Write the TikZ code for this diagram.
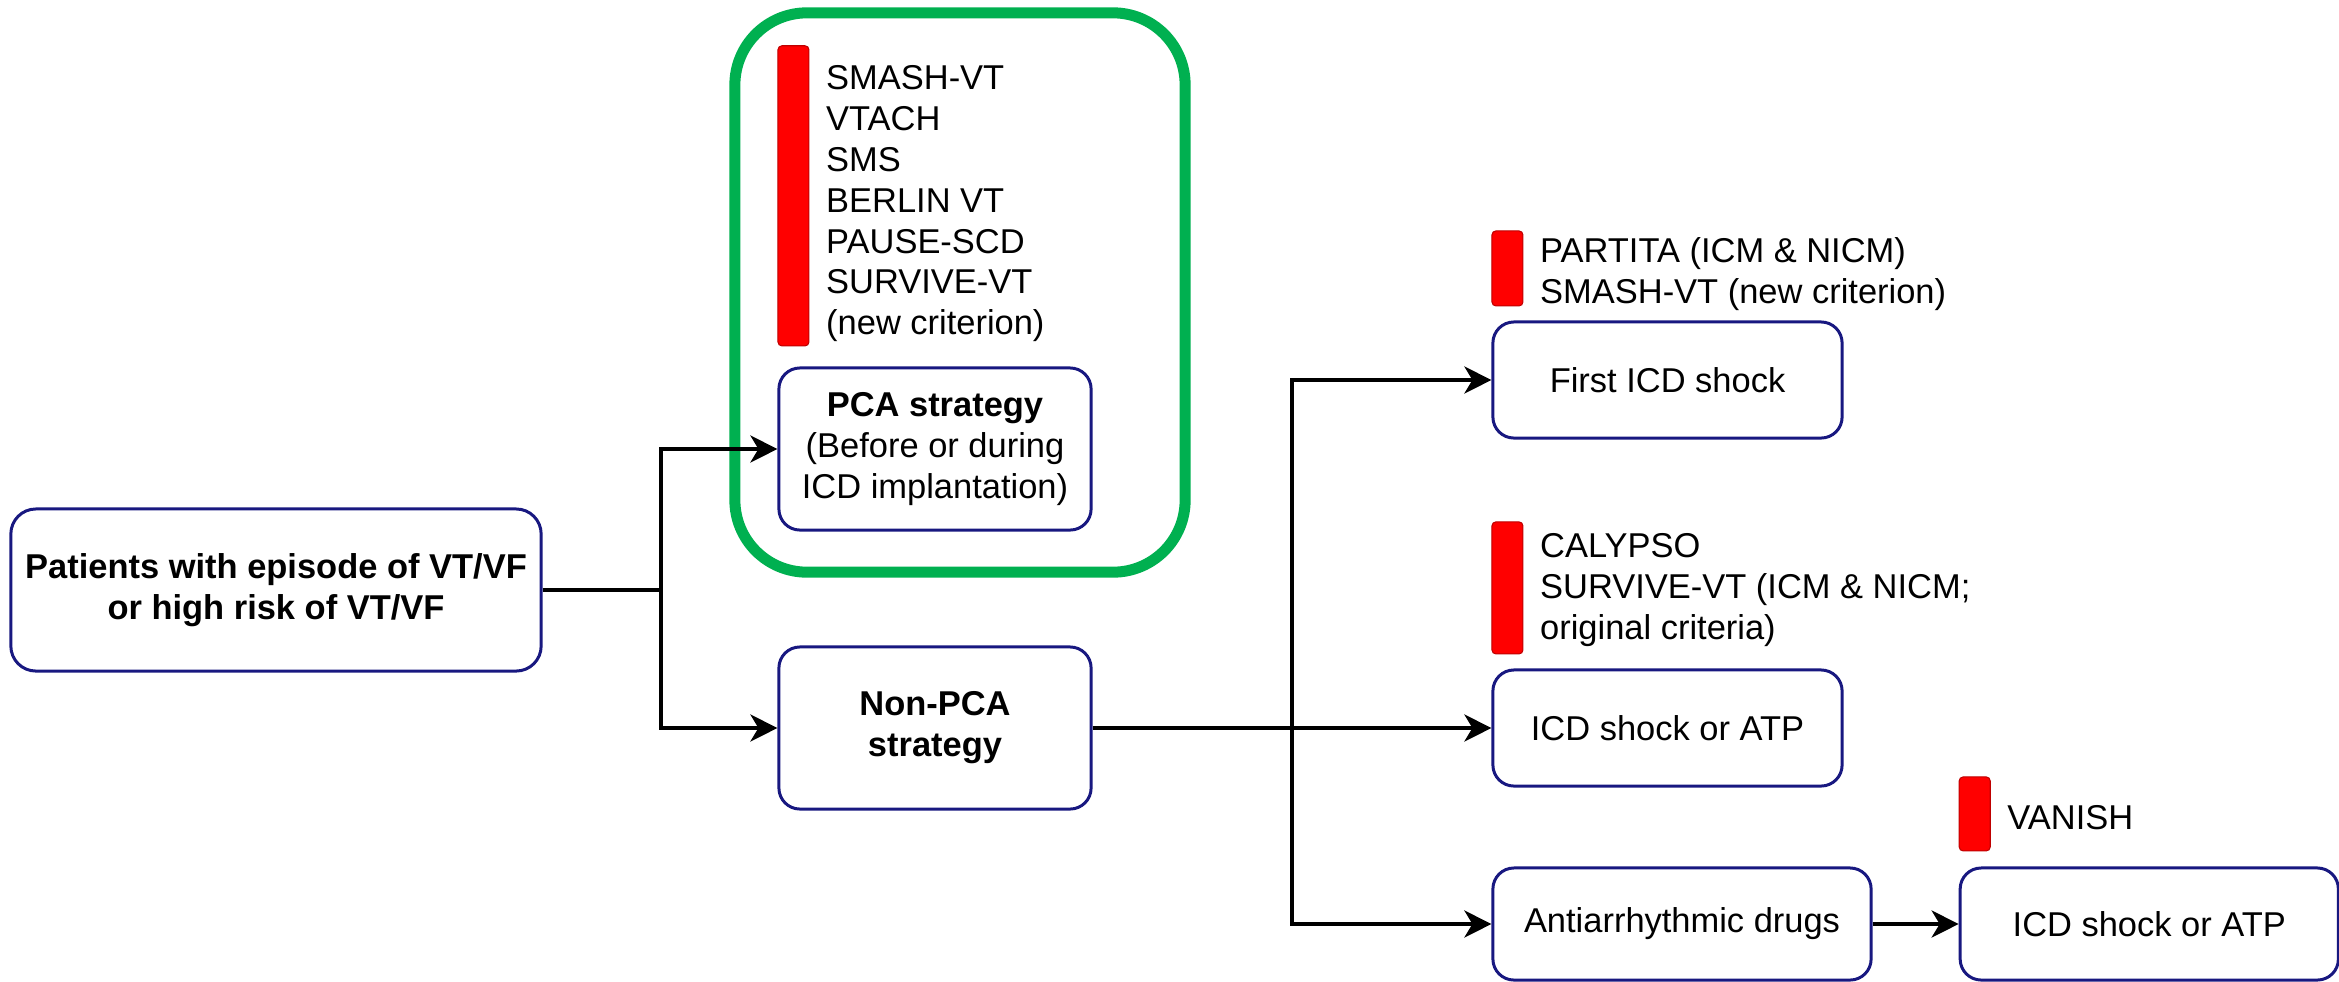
\documentclass[tikz,border=0pt]{standalone}
\usepackage{fontspec}
\setmainfont{Liberation Sans}
\usetikzlibrary{arrows.meta,positioning}
\definecolor{boxblue}{RGB}{24,24,128}
\definecolor{grpgreen}{RGB}{0,176,80}
\definecolor{barred}{RGB}{255,0,0}
\newcommand{\diagfont}{\fontsize{9.8pt}{11.6pt}\selectfont}

\begin{document}
\begin{tikzpicture}[
    x=0.01cm, y=-0.01cm,
    every node/.style={font=\diagfont},
    box/.style={rectangle,draw=boxblue,line width=0.85pt,rounded corners=0.21cm,align=center,inner sep=0pt},
    bar/.style={rectangle,fill=barred,draw=barred!75!black,line width=0.3pt,rounded corners=0.04cm,minimum width=0.31cm,inner sep=0pt},
    trials/.style={align=left,inner sep=0pt},
    group/.style={rectangle,draw=grpgreen,line width=0.11cm,rounded corners=0.72cm,inner sep=0pt},
    arrow/.style={line width=1.1pt,-{Stealth[length=0.27cm,width=0.27cm,inset=0.08cm]}},
    link/.style={line width=1.1pt}
]
    \useasboundingbox (0,0) rectangle (2339,981);

    % Patients and the two strategies
    \node[box,font=\diagfont\bfseries,minimum width=5.3cm,minimum height=1.62cm,rounded corners=0.25cm] (pat) at (276,590) {Patients with episode of VT/VF\\or high risk of VT/VF};
    \node[group,minimum width=4.5cm,minimum height=5.59cm] (pcagrp) at (960,292.5) {};
    \node[box,minimum width=3.12cm,minimum height=1.62cm] (pca) at (935,449) {\textbf{PCA strategy}\\(Before or during\\ICD implantation)};
    \node[box,font=\diagfont\bfseries,minimum width=3.12cm,minimum height=1.62cm] (nonpca) at (935,728) {Non-PCA\\strategy};

    % PCA trials
    \node[bar,minimum height=3.0cm,above=0.2cm of pca.north west,anchor=south west] (bar1) {};
    \node[trials,right=0.16cm of bar1,yshift=-0.08cm] (list1) {SMASH-VT\\VTACH\\SMS\\BERLIN VT\\PAUSE-SCD\\SURVIVE-VT\\(new criterion)};

    % Non-PCA endpoints
    \node[box,minimum width=3.49cm,minimum height=1.16cm] (first) at (1667.5,380) {First ICD shock};
    \node[box,minimum width=3.49cm,minimum height=1.16cm] (icd) at (1667.5,728) {ICD shock or ATP};
    \node[box,minimum width=3.78cm,minimum height=1.12cm] (drugs) at (1682,924) {Antiarrhythmic drugs};
    \node[box,minimum width=3.78cm,minimum height=1.12cm,right=0.86cm of drugs] (icdb) {ICD shock or ATP};

    \node[bar,minimum height=0.75cm,above=0.14cm of first.north west,anchor=south west] (bar2) {};
    \node[trials,right=0.16cm of bar2,yshift=-0.06cm] (list2) {PARTITA (ICM \& NICM)\\SMASH-VT (new criterion)};
    \node[bar,minimum height=1.32cm,above=0.14cm of icd.north west,anchor=south west] (bar3) {};
    \node[trials,right=0.16cm of bar3,yshift=-0.02cm] (list3) {CALYPSO\\SURVIVE-VT (ICM \& NICM;\\original criteria)};
    \node[bar,minimum height=0.74cm,above=0.15cm of icdb.north west,anchor=south west] (bar4) {};
    \node[trials,right=0.16cm of bar4,yshift=-0.04cm] (list4) {VANISH};

    % Connectors
    \coordinate (split1) at (661,590);
    \coordinate (split2) at (1292,728);
    \draw[link] (pat.east) -- (split1);
    \draw[arrow] (split1) |- (pca.west);
    \draw[arrow] (split1) |- (nonpca.west);
    \draw[arrow] (nonpca.east) -- (icd.west);
    \draw[arrow] (split2) |- (first.west);
    \draw[arrow] (split2) |- (drugs.west);
    \draw[arrow] (drugs.east) -- (icdb.west);
\end{tikzpicture}
\end{document}
